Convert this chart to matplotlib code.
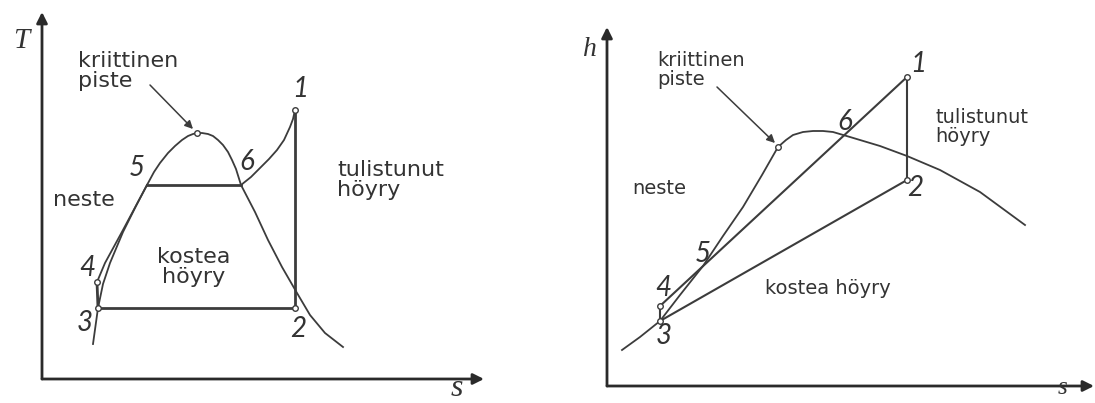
import numpy as np
import matplotlib
matplotlib.use("Agg")
import matplotlib.pyplot as plt

# T-s diagram (left): saturation dome and cycle, arbitrary units
ts_liq_s = [51, 56, 61, 68, 81, 94, 105, 112, 118, 126, 133, 140, 146, 151, 155]
ts_liq_T = [35, 71, 95, 116, 147, 173, 194, 207, 216, 226, 233, 239, 243, 245, 246]
ts_vap_s = [155, 160, 166, 171, 176, 181, 186, 190, 194, 199, 213, 226, 240, 255, 268, 283, 301]
ts_vap_T = [246, 246, 245, 243, 239, 234, 227, 219, 210, 194, 167, 139, 112, 86, 64, 46, 32]
ts_sup_s = [199, 209, 218, 227, 235, 242, 248, 251, 253]
ts_sup_T = [194, 202, 211, 220, 229, 239, 252, 260, 269]
ts_pump_s = [55, 63, 81, 105]
ts_pump_T = [97, 116, 149, 194]
ts_pts = {"1": (253, 269), "2": (253, 71), "3": (56, 71), "4": (55, 97),
          "5": (105, 194), "6": (199, 194)}
ts_crit = (155, 246)

# h-s diagram (right)
hs_sat_s = [15, 33, 53, 73, 96, 116, 136, 155, 171, 179, 186, 196, 206, 216, 226, 243, 273, 300, 333, 373, 418]
hs_sat_h = [36, 49, 65, 91, 120, 150, 179, 211, 239, 246, 251, 254, 255, 255, 254, 249, 240, 230, 216, 194, 161]
hs_pts = {"1": (300, 309), "2": (300, 206), "3": (53, 65), "4": (53, 80)}
hs_crit = (171, 239)

LINE = "#3c3c3c"
TXT = "#333333"
W, H = 1095, 403

fig = plt.figure(figsize=(W / 100, H / 100), dpi=100)


def make_axes(px0, px1, ox, oy):
    ax = fig.add_axes([px0 / W, 0, (px1 - px0) / W, 1])
    ax.set_xlim(px0 - ox, px1 - ox)
    ax.set_ylim(oy - H, oy)
    ax.axis("off")
    return ax


def axis_arrows(ax, xend, yend):
    for end in [(xend, 0), (0, yend)]:
        ax.annotate("", xy=end, xytext=(0, 0), annotation_clip=False,
                    arrowprops=dict(arrowstyle="-|>", lw=2, color="#2a2a2a",
                                    mutation_scale=16, shrinkA=0, shrinkB=0))


num_kw = dict(fontsize=20, family="Lato", style="italic", weight="normal",
              color=TXT, ha="center", va="center")
lab_kw = dict(family="DejaVu Sans", color=TXT, linespacing=1.0)
mk_kw = dict(marker="o", ms=4, mfc="white", mec=LINE, mew=1, ls="none")

# ---- T-s ----
ax1 = make_axes(0, 545, 42, 379)
axis_arrows(ax1, 442, 367)
ax1.plot(ts_liq_s, ts_liq_T, color=LINE, lw=1.3)
ax1.plot(ts_vap_s, ts_vap_T, color=LINE, lw=1.3)
ax1.plot(ts_sup_s, ts_sup_T, color=LINE, lw=1.3)
ax1.plot(ts_pump_s, ts_pump_T, color=LINE, lw=1.3)
p = ts_pts
for a, b in [("1", "2"), ("2", "3"), ("3", "4"), ("5", "6")]:
    ax1.plot([p[a][0], p[b][0]], [p[a][1], p[b][1]], color=LINE, lw=2)
ax1.plot(*zip(*[p[k] for k in "1234"]), **mk_kw)
ax1.plot(*ts_crit, **mk_kw)
num_pos1 = {"1": (258, 290), "2": (256, 50), "3": (43, 56), "4": (45, 111),
            "5": (95, 211), "6": (205, 217)}
for k, xy in num_pos1.items():
    ax1.text(*xy, k, **num_kw)
ax1.text(-21, 338, "T", fontsize=21, family="Liberation Serif", style="italic",
         color=TXT, ha="center", va="center")
ax1.text(415, -9, "s", fontsize=23, family="Liberation Serif", style="italic",
         color=TXT, ha="center", va="center")
ax1.text(36, 328, "kriittinen\npiste", fontsize=16, ha="left", va="top", **lab_kw)
ax1.text(11, 179, "neste", fontsize=16, ha="left", va="center", **lab_kw)
ax1.text(152, 112, "kostea\nhöyry", fontsize=16, ha="center", va="center",
         multialignment="center", **lab_kw)
ax1.text(295, 219, "tulistunut\nhöyry", fontsize=16, ha="left", va="top", **lab_kw)
ax1.annotate("", xy=(151, 250), xytext=(108, 294),
             arrowprops=dict(arrowstyle="-|>", lw=1.1, color=LINE,
                             mutation_scale=12, shrinkA=0, shrinkB=0))

# ---- h-s ----
ax2 = make_axes(545, 1095, 607, 386)
axis_arrows(ax2, 487, 359)
ax2.plot(hs_sat_s, hs_sat_h, color=LINE, lw=1.3)
q = hs_pts
for a, b in [("1", "2"), ("2", "3"), ("3", "4"), ("4", "1")]:
    ax2.plot([q[a][0], q[b][0]], [q[a][1], q[b][1]], color=LINE, lw=1.5)
ax2.plot(*zip(*[q[k] for k in "1234"]), **mk_kw)
ax2.plot(*hs_crit, **mk_kw)
num_pos2 = {"1": (311, 322), "2": (308, 198), "3": (57, 50), "4": (56, 98),
            "5": (96, 132), "6": (238, 264)}
for k, xy in num_pos2.items():
    ax2.text(*xy, k, **num_kw)
ax2.text(-17, 336, "h", fontsize=20, family="Liberation Serif", style="italic",
         color=TXT, ha="center", va="center")
ax2.text(456, -2, "s", fontsize=18, family="Liberation Serif", style="italic",
         color=TXT, ha="center", va="center")
ax2.text(50, 335, "kriittinen\npiste", fontsize=14, ha="left", va="top", **lab_kw)
ax2.text(25, 198, "neste", fontsize=14, ha="left", va="center", **lab_kw)
ax2.text(158, 98, "kostea höyry", fontsize=14, ha="left", va="center", **lab_kw)
ax2.text(328, 278, "tulistunut\nhöyry", fontsize=14, ha="left", va="top", **lab_kw)
ax2.annotate("", xy=(168, 243), xytext=(110, 299),
             arrowprops=dict(arrowstyle="-|>", lw=1.1, color=LINE,
                             mutation_scale=12, shrinkA=0, shrinkB=0))

fig.savefig("out.png", dpi=100)
